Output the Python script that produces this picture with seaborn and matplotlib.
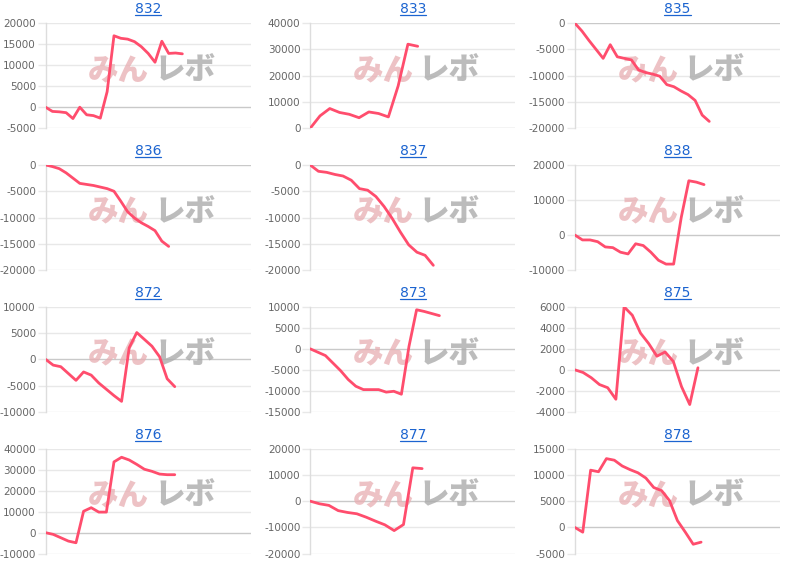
import matplotlib
matplotlib.use('Agg')
import matplotlib.pyplot as plt
import seaborn as sns
import numpy as np
from matplotlib.lines import Line2D

sns.set_theme(style='white')
plt.rcParams['font.family'] = ['DejaVu Sans', 'Noto Sans CJK JP']

# 台番号ごとの差枚推移
titles = ['832', '833', '835', '836', '837', '838', '872', '873', '875', '876', '877', '878']

v832 = [0, -1000, -1100, -1300, -2700, 0, -1800, -2000, -2600, 3700, 17000,
        16400, 16200, 15600, 14400, 12800, 10700, 15700, 12800, 12900, 12700]
v833 = [0, 4700, 7500, 6000, 5300, 4000, 6200, 5600, 4300, 16100, 32000, 31200]
v835 = [0, -1500, -3300, -5000, -6700, -4100, -6400, -6700, -7000, -8900,
        -9400, -9700, -10100, -11700, -12100, -12900, -13600, -14700, -17500, -18700]
v836 = [0, -300, -700, -1500, -2500, -3500, -3700, -3900, -4200, -4500,
        -5000, -6900, -8900, -10100, -11000, -11700, -12500, -14500, -15500]
v837 = [0, -1200, -1400, -1800, -2100, -2900, -4500, -4800, -6000, -7900,
        -10200, -12800, -15200, -16600, -17200, -19100]
v838 = [0, -1400, -1400, -1900, -3400, -3600, -4900, -5400, -2500, -3000,
        -4900, -7200, -8300, -8300, 5000, 15500, 15100, 14400]
v872 = [0, -1100, -1400, -2700, -4000, -2400, -3000, -4500, -5700, -6900,
        -8000, 2200, 5100, 3800, 2500, 500, -3700, -5200]
v873 = [0, -800, -1600, -3400, -5200, -7300, -8900, -9700, -9700, -9700,
        -10300, -10100, -10800, 600, 9300, 8900, 8400, 7900]
v875 = [0, -250, -750, -1400, -1700, -2800, 6000, 5200, 3500, 2500,
        1300, 1700, 800, -1600, -3300, 200]
v876 = [0, -800, -2400, -4000, -4800, 10200, 11900, 9800, 9800, 33700,
        35900, 34600, 32500, 30200, 29200, 27900, 27600, 27600]
v877 = [0, -1000, -1600, -3600, -4300, -4800, -6100, -7600, -9000, -11200,
        -8900, 12700, 12400]
v878 = [0, -900, 10900, 10600, 13100, 12800, 11700, 11000, 10400, 9400,
        7600, 7000, 5100, 1300, -900, -3200, -2800]

series = [v832, v833, v835, v836, v837, v838, v872, v873, v875, v876, v877, v878]

# y軸の範囲と目盛り間隔
y_min = [-5000, 0, -20000, -20000, -20000, -10000, -10000, -15000, -4000, -10000, -20000, -5000]
y_max = [20000, 40000, 0, 0, 0, 20000, 10000, 10000, 6000, 40000, 20000, 15000]
y_step = [5000, 10000, 5000, 5000, 5000, 10000, 5000, 5000, 2000, 10000, 10000, 5000]
# x軸の日数（横軸のカテゴリ数）
x_len = [30, 21, 29, 30, 25, 27, 27, 27, 25, 27, 22, 26]

LINE = '#ff4d6d'
GRID = '#e8e8e8'
LINK = '#1c64d0'

fig, axes = plt.subplots(4, 3, figsize=(8, 5.65), dpi=100)
fig.subplots_adjust(left=0.057, right=0.975, top=0.959, bottom=0.02,
                    wspace=0.29, hspace=0.35)

for ax, t, vals, lo, hi, st, xl in zip(axes.flat, titles, series, y_min, y_max, y_step, x_len):
    ticks = np.arange(lo, hi + st, st)
    for tv in ticks:
        ax.axhline(tv, color='#c9c9c9' if tv == 0 else GRID, linewidth=1, zorder=0)

    # 透かしロゴ
    ax.text(0.505, 0.55, 'みん', transform=ax.transAxes, ha='right', va='center',
            fontsize=22, fontweight='heavy', color='#e8aeb2', alpha=0.75,
            family=['Noto Sans CJK JP'], zorder=1)
    ax.text(0.53, 0.55, 'レボ', transform=ax.transAxes, ha='left', va='center',
            fontsize=22, fontweight='heavy', color='#acacac', alpha=0.8,
            family=['Noto Sans CJK JP'], zorder=1)

    sns.lineplot(x=np.arange(len(vals)), y=vals, ax=ax, color=LINE,
                 linewidth=2, zorder=3)
    ax.lines[-1].set_solid_joinstyle('round')

    ax.set_xlim(0, xl)
    ax.set_ylim(lo, hi)
    ax.set_yticks(ticks)
    ax.set_yticklabels([str(int(v)) for v in ticks])
    ax.set_xticks([])
    ax.tick_params(axis='y', length=6, width=1, color=GRID, pad=1,
                   labelsize=7.5, labelcolor='#666666', left=True)
    for side in ['top', 'right', 'bottom']:
        ax.spines[side].set_visible(False)
    ax.spines['left'].set_color('#dddddd')
    ax.spines['left'].set_linewidth(1)
    ax.set_facecolor('none')
    ax.set_xlabel('')
    ax.set_ylabel('')
    ax.set_title(t, fontsize=10, color=LINK, pad=7)

# タイトルにリンク風の下線を付ける
fig.canvas.draw()
for ax in axes.flat:
    bb = ax.title.get_window_extent()
    x0, x1 = bb.x0 / fig.bbox.width, bb.x1 / fig.bbox.width
    y = (bb.y0 + 1) / fig.bbox.height
    fig.add_artist(Line2D([x0, x1], [y, y], color=LINK, linewidth=0.9,
                          transform=fig.transFigure))

fig.savefig('out.png', dpi=100, facecolor='white')
